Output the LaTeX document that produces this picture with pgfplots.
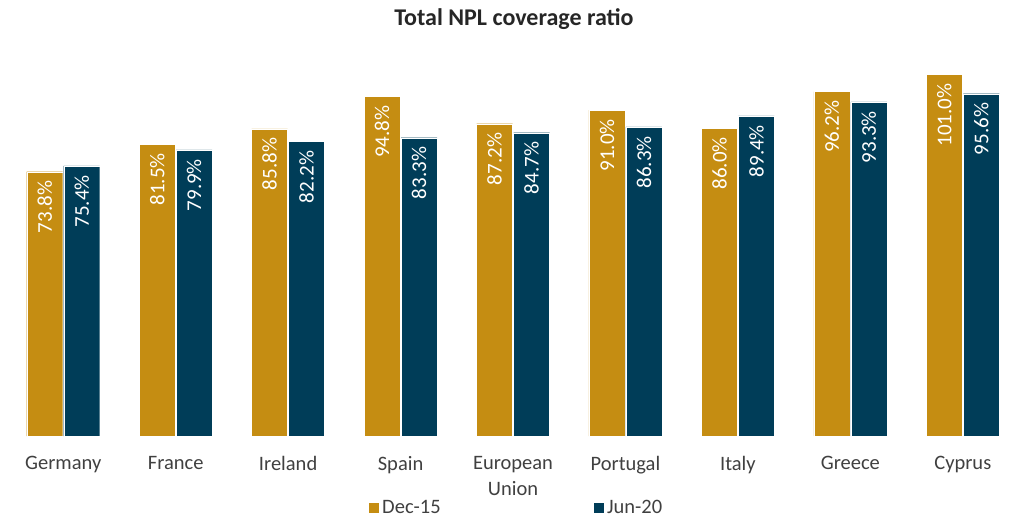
\documentclass[border=0pt]{standalone}
\usepackage{pgfplots}
\pgfplotsset{compat=1.18}
\usepackage{fontspec}
\setmainfont{Carlito}
\definecolor{gold}{HTML}{C58D12}
\definecolor{navy}{HTML}{003D58}
\definecolor{lbl}{HTML}{404040}
\begin{document}
\begin{tikzpicture}
\useasboundingbox (-7bp,-83bp) rectangle (1003bp,436bp);
\node[font=\fontsize{24bp}{28bp}\selectfont\bfseries, text=black!85] at (507bp,417bp) {Total NPL coverage ratio};
\begin{axis}[
  scale only axis, width=1003bp, height=376bp,
  xmin=-0.5, xmax=8.42, ymin=0, ymax=105,
  axis line style={draw=none},
  ytick=\empty,
  xtick={0,...,8},
  xticklabels={Germany,France,Ireland,Spain,{European\\Union},Portugal,Italy,Greece,Cyprus},
  major tick length=0pt,
  xticklabel style={align=center, text=lbl, font=\fontsize{20.5bp}{26.5bp}\selectfont, inner sep=0pt, yshift=-20bp},
  /pgf/number format/assume math mode=true,
  ybar=1bp, bar width=36bp,
  nodes near coords={\pgfmathprintnumber[fixed,fixed zerofill,precision=1]{\pgfplotspointmeta}\%},
  every node near coord/.append style={rotate=90, anchor=east, text=white, inner xsep=9bp, font=\fontsize{21bp}{24bp}\selectfont},
  legend columns=2,
  legend style={draw=none, at={(0.5080,-0.1915)}, anchor=center, font=\fontsize{20.5bp}{24bp}\selectfont, text=lbl, inner sep=0pt,
    nodes={inner xsep=3bp},
    /tikz/every even column/.append style={column sep=149bp}},
  legend image code/.code={\fill[#1] (0bp,-5.5bp) rectangle (11bp,5.5bp);},
]
\addplot[fill=gold, draw=white, line width=0.3bp] coordinates {(0,73.8) (1,81.5) (2,85.8) (3,94.8) (4,87.2) (5,91.0) (6,86.0) (7,96.2) (8,101.0)};
\addplot[fill=navy, draw=white, line width=0.3bp] coordinates {(0,75.4) (1,79.9) (2,82.2) (3,83.3) (4,84.7) (5,86.3) (6,89.4) (7,93.3) (8,95.6)};
\legend{Dec-15,Jun-20}
\end{axis}
\end{tikzpicture}
\end{document}
